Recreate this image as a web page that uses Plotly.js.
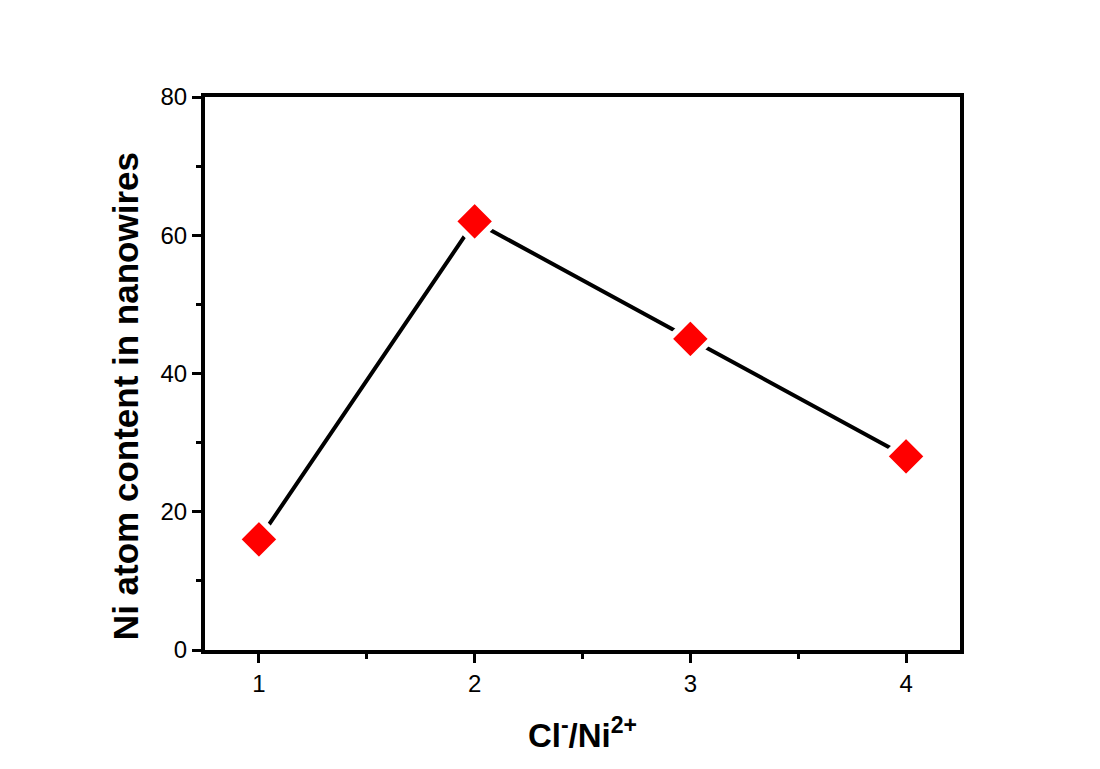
<!DOCTYPE html>
<html>
<head>
<meta charset="utf-8">
<script src="https://cdn.plot.ly/plotly-3.0.1.min.js"></script>
<style>html,body{margin:0;padding:0;background:#fff;}#chart{width:1100px;height:769px;}</style>
</head>
<body>
<div id="chart"></div>
<script>
const ratio = [1, 2, 3, 4];
const niContent = [16, 62, 45, 28];
const xTicks = [1, 2, 3, 4];
const yTicks = [0, 20, 40, 60, 80];
const yTitle = 'Ni atom content in nanowires';

const trace = {
  x: ratio,
  y: niContent,
  mode: 'lines+markers',
  line: {color: '#000', width: 4},
  marker: {symbol: 'diamond', color: '#ff0000', size: 33, line: {color: '#fff', width: 6}},
  showlegend: false
};

const fam = 'Liberation Sans, Arial, sans-serif';
const axisCommon = {
  showline: true, linecolor: '#000', linewidth: 4, mirror: true,
  ticks: 'outside', ticklen: 9, tickwidth: 3, tickcolor: '#000',
  showgrid: false, zeroline: false,
  tickfont: {family: fam, size: 24, color: '#000'}
};

const layout = {
  width: 1100, height: 769,
  paper_bgcolor: '#fff', plot_bgcolor: '#fff',
  margin: {l: 205, r: 140, t: 97, b: 119},
  xaxis: Object.assign({}, axisCommon, {
    range: [0.75, 4.25], tickvals: xTicks, ticktext: xTicks.map(String),
    minor: {tickvals: [1.5, 2.5, 3.5], ticks: 'outside', ticklen: 5, tickwidth: 3, tickcolor: '#000'},
    title: {text: '<b>Cl<sup>-</sup>/Ni<sup>2+</sup></b>', font: {family: fam, size: 33, color: '#000'}, standoff: 29}
  }),
  yaxis: Object.assign({}, axisCommon, {
    range: [0, 80], tickvals: yTicks, ticktext: yTicks.map(String),
    minor: {tickvals: [10, 30, 50, 70], ticks: 'outside', ticklen: 5, tickwidth: 3, tickcolor: '#000'}
  }),
  annotations: [{
    text: '<b>' + yTitle + '</b>', textangle: -90, showarrow: false,
    xref: 'paper', yref: 'paper', x: -0.106, y: 0.459, xanchor: 'center', yanchor: 'middle',
    font: {family: fam, size: 35, color: '#000'}
  }]
};

Plotly.newPlot('chart', [trace], layout, {displayModeBar: false});
</script>
</body>
</html>
